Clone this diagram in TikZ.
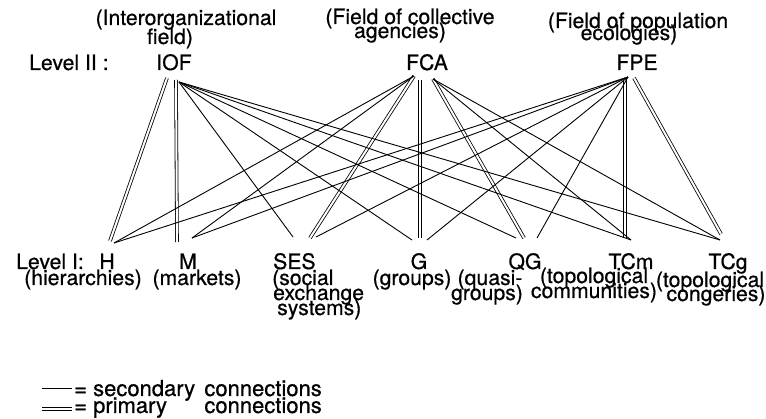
\documentclass[tikz,border=0pt]{standalone}
\usepackage{fontspec}
\setmainfont{TeX Gyre Heros}
\newfontfamily\inkfont[FakeBold=0.6]{TeX Gyre Heros}
\begin{document}
\begin{tikzpicture}[x=1pt,y=-1pt,
  lbl/.style={inner sep=0pt, anchor=base, font=\inkfont\fontsize{21.2}{21}\selectfont},
  lblw/.style={lbl, anchor=base west},
  keytxt/.style={lblw, font=\inkfont\fontsize{22}{22}\selectfont},
  sec/.style={line width=0.9pt},
  pri/.style={double, double distance=2pt, line width=0.8pt},
]
\useasboundingbox (0,0) rectangle (766,419);

% ---- Level II ----
\node[lblw] (LII) at (29,70) {Level II :};
\node[lbl] (IOFd1) at (186,25) {(Interorganizational};
\node[lbl] (IOFd2) at (170,44) {field)};
\node[lbl] (IOF) at (174,70) {IOF};
\node[lbl] (FCAd1) at (410,24) {(Field of collective};
\node[lbl] (FCAd2) at (400,38) {agencies)};
\node[lbl] (FCA) at (427,70) {FCA};
\node[lbl] (FPEd1) at (638,28) {(Field of population};
\node[lbl] (FPEd2) at (629,40) {ecologies)};
\node[lbl] (FPE) at (637,70) {FPE};

% ---- Level I ----
\node[lblw] (LI) at (16,269) {Level I:};
\node[lbl] (H) at (107,269) {H};
\node[lbl] (Hd) at (83,285) {(hierarchies)};
\node[lbl] (M) at (188,269) {M};
\node[lbl] (Md) at (197,285) {(markets)};
\node[lblw] (SES) at (273,269) {SES};
\node[lblw] (SESd1) at (272,285) {(social};
\node[lblw] (SESd2) at (273,300) {exchange};
\node[lblw] (SESd3) at (277,315) {systems)};
\node[lbl] (G) at (419,269) {G};
\node[lbl] (Gd) at (412,285) {(groups)};
\node[lbl] (QG) at (525,269) {QG};
\node[lbl] (QGd1) at (490,285) {(quasi-};
\node[lbl] (QGd2) at (487,300) {groups)};
\node[lbl] (TCm) at (631,269) {TCm};
\node[lbl] (TCmd1) at (594,283) {(topological};
\node[lbl] (TCmd2) at (594,298) {communities)};
\node[lbl] (TCg) at (728,269) {TCg};
\node[lbl] (TCgd1) at (710,287) {(topological};
\node[lbl] (TCgd2) at (716,301) {congeries)};

% ---- connector ends below the Level II names ----
\coordinate (IOFh) at ([shift={(-7,8)}]IOF.base);
\coordinate (IOFm) at ([shift={(2,10)}]IOF.base);
\coordinate (IOFr) at ([shift={(5,12)}]IOF.base);
\coordinate (FCAl) at ([shift={(-13,6)}]FCA.base);
\coordinate (FCAg) at ([shift={(-7,10)}]FCA.base);
\coordinate (FCAr) at ([shift={(6,9)}]FCA.base);
\coordinate (FPEl) at ([shift={(-9,7)}]FPE.base);
\coordinate (FPEt) at ([shift={(-12,10)}]FPE.base);
\coordinate (FPEg) at ([shift={(-3,8)}]FPE.base);

% ---- connector ends above the Level I names ----
\coordinate (Hp) at ([shift={(3,-28)}]H.base);
\coordinate (Hs) at ([shift={(7,-26)}]H.base);
\coordinate (Mp) at ([shift={(-11,-27)}]M.base);
\coordinate (Ms) at ([shift={(4,-31)}]M.base);
\coordinate (SESa) at ([shift={(20,-32)}]SES.base west);
\coordinate (SESp) at ([shift={(37,-31)}]SES.base west);
\coordinate (SESb) at ([shift={(43,-32)}]SES.base west);
\coordinate (Ga) at ([shift={(-7,-29)}]G.base);
\coordinate (Gp) at ([shift={(1,-31)}]G.base);
\coordinate (Gb) at ([shift={(8,-29)}]G.base);
\coordinate (QGa) at ([shift={(-9,-31)}]QG.base);
\coordinate (QGp) at ([shift={(-1,-31)}]QG.base);
\coordinate (QGb) at ([shift={(12,-31)}]QG.base);
\coordinate (TCmp) at ([shift={(-6,-31)}]TCm.base);
\coordinate (TCms) at ([shift={(0,-29)}]TCm.base);
\coordinate (TCgp) at ([shift={(-7,-35)}]TCg.base);
\coordinate (TCgs) at ([shift={(-8,-29)}]TCg.base);

% ---- primary connections ----
\draw[pri] (IOFh) -- (Hp);
\draw[pri] (IOFm) -- (Mp);
\draw[pri] (FCAl) -- (SESp);
\draw[pri] (FCAg) -- (Gp);
\draw[pri] (FCAr) -- (QGp);
\draw[pri] (FPEt) -- (TCmp);
\draw[pri] (FPEg) -- (TCgp);

% ---- secondary connections ----
\draw[sec] (IOFr) -- (SESa);
\draw[sec] (IOFr) -- (Ga);
\draw[sec] (IOFr) -- (QGa);
\draw[sec] (IOFr) -- (TCms);
\draw[sec] (IOFr) -- (TCgs);
\draw[sec] (FCAl) -- (Hs);
\draw[sec] (FCAl) -- (Ms);
\draw[sec] (FCAr) -- (TCms);
\draw[sec] (FCAr) -- (TCgs);
\draw[sec] (FPEl) -- (Hs);
\draw[sec] (FPEl) -- (Ms);
\draw[sec] (FPEl) -- (SESb);
\draw[sec] (FPEl) -- (Gb);
\draw[sec] (FPEl) -- (QGb);

% ---- key ----
\coordinate (k1a) at (42,388);
\coordinate (k1b) at (72,388);
\coordinate (k2a) at (42,409);
\coordinate (k2b) at (72,409);
\draw[sec] (k1a) -- (k1b);
\draw[pri] (k2a) -- (k2b);
\node[keytxt] (keyS) at (74,396) {= secondary};
\node[keytxt] (keyP) at (74,413) {= primary};
\node[keytxt, anchor=base east] (keyC1) at (322,396) {connections};
\node[keytxt, anchor=base east] (keyC2) at (322,413) {connections};
\end{tikzpicture}
\end{document}
